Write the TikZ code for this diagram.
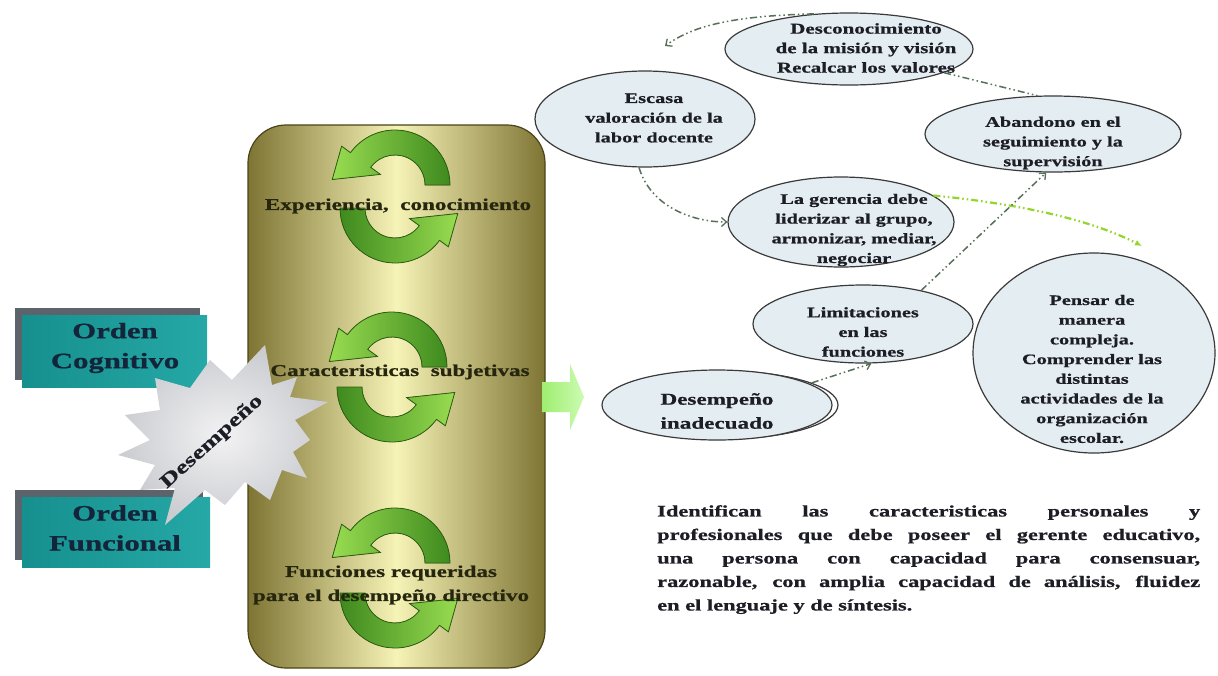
\documentclass[tikz,border=0pt]{standalone}
\usepackage{fontspec}
\setmainfont{Liberation Serif}[FakeStretch=1.4, BoldFont={Liberation Serif Bold}, BoldFeatures={FakeBold=0.8}]
\usetikzlibrary{arrows.meta,shapes.geometric}

\definecolor{cylEdge}{HTML}{7E7434}
\definecolor{cylMid}{HTML}{F6F3B6}
\definecolor{cylBorder}{HTML}{4A4418}
\definecolor{arLight}{HTML}{98DC50}
\definecolor{arDark}{HTML}{3F8A1F}
\definecolor{arLine}{HTML}{2C5E12}
\definecolor{tealA}{HTML}{16908E}
\definecolor{tealB}{HTML}{25A8A6}
\definecolor{boxShadow}{HTML}{5C636B}
\definecolor{navy}{HTML}{14243A}
\definecolor{starIn}{HTML}{F2F2F4}
\definecolor{starOut}{HTML}{CBCCD0}
\definecolor{bubbleFill}{HTML}{E4EEF2}
\definecolor{bubbleLine}{HTML}{3A3A3A}
\definecolor{linkCol}{HTML}{56705A}
\definecolor{linkLime}{HTML}{93D62A}
\definecolor{txt}{HTML}{1D1D26}
\definecolor{cylTxt}{HTML}{26260F}
\definecolor{blockA}{HTML}{9FEE70}
\definecolor{blockB}{HTML}{CCFBB2}

% one green arc arrow of a cycle pair, drawn around the current origin
\newcommand\arcup{%
  (0:55) arc[start angle=0, end angle=-144, radius=55] -- (-144:66) -- (-175:63)
  -- (-144:18) -- (-144:30) arc[start angle=-144, end angle=0, radius=30] -- cycle}
\newcommand\arcdown{%
  (180:55) arc[start angle=180, end angle=36, radius=55] -- (36:66) -- (5:63)
  -- (36:18) -- (36:30) arc[start angle=36, end angle=180, radius=30] -- cycle}
% #1 x, #2 centre y of upper arrow, #3 centre y of lower arrow
\newcommand\cyclepair[3]{%
  \begin{scope}[shift={(#1,#2)}]
    \filldraw[cyc, left color=arLight, right color=arDark] \arcup;
  \end{scope}
  \begin{scope}[shift={(#1,#3)}]
    \filldraw[cyc, left color=arDark, right color=arLight] \arcdown;
  \end{scope}}

\begin{document}
\begin{tikzpicture}[x=1pt, y=-1pt,
  cyc/.style={draw=arLine, line width=0.8pt},
  tealbox/.style={rectangle, left color=tealA, right color=tealB, inner sep=0pt, anchor=north west},
  boxtext/.style={font=\bfseries\fontsize{22}{30}\selectfont, text=navy, align=center, inner sep=0pt},
  cyltext/.style={font=\bfseries\fontsize{16.5}{24}\selectfont, text=cylTxt, align=center, inner sep=0pt},
  bubble/.style={ellipse, draw=bubbleLine, fill=bubbleFill, line width=1.2pt, inner sep=0pt},
  btext/.style={font=\bfseries\fontsize{14.5}{19.7}\selectfont, text=txt, align=center, inner sep=0pt},
  link/.style={draw=linkCol, line width=1.5pt, dash pattern=on 7pt off 3pt on 1.5pt off 3pt on 1.5pt off 3pt},
  barb/.style={-{Straight Barb[length=5pt, width=9pt, line width=1.3pt]}}
]
\useasboundingbox (0,0) rectangle (1218,675);
\fill[white] (0,0) rectangle (1218,675);

% ---------- central column ----------
\shade[left color=cylEdge, right color=cylEdge, middle color=cylMid, rounded corners=38pt]
  (248,125) rectangle (545,668);
\draw[cylBorder, line width=1.2pt, rounded corners=38pt] (248,125) rectangle (545,668);

\cyclepair{395}{185}{208}
\cyclepair{392}{367}{387}
\cyclepair{395}{563}{593}

\node[cyltext] (ct1) at (398,206) {Experiencia,\ \ conocimiento};
\node[cyltext] (ct2) at (400,372) {Caracteristicas\ \ subjetivas};
\node[cyltext] (ct3) at (391,585) {Funciones requeridas\\para el desempeño directivo};

% ---------- left boxes ----------
\fill[boxShadow] (15,308) rectangle (200,380);
\node[tealbox, minimum width=185pt, minimum height=72pt] (oc) at (22,315) {};
\fill[boxShadow] (15,490) rectangle (203,560);
\node[tealbox, minimum width=188pt, minimum height=70pt] (of) at (22,497) {};
\node[boxtext] (oct) at (115,348) {Orden\\Cognitivo};
\node[boxtext] (oft) at (115,528) {Orden\\Funcional};

% ---------- starburst ----------
\shade[inner color=starIn, outer color=starOut]
  (265,345) -- (272,385) -- (297,377) -- (290,397) -- (328,402) -- (295,420)
  -- (310,440) -- (293,452) -- (307,478) -- (282,470) -- (270,500) -- (245,482)
  -- (225,505) -- (205,490) -- (165,525) -- (175,488) -- (140,490) -- (155,465)
  -- (118,455) -- (150,440) -- (125,415) -- (160,410) -- (155,378) -- (190,388)
  -- (210,360) -- (232,380) -- cycle;
\node[font=\bfseries\fontsize{19}{24}\selectfont, text=txt, rotate=42, inner sep=0pt] (dst) at (212,442) {Desempeño};

% ---------- block arrow ----------
\shade[left color=blockA, right color=blockB]
  (542,382) -- (570,382) -- (570,364) -- (584,397) -- (570,430) -- (570,412) -- (542,412) -- cycle;

% ---------- bubbles ----------
\node[bubble, minimum width=248pt, minimum height=72pt] (e1) at (849,49) {};
\node[bubble, minimum width=220pt, minimum height=96pt] (e2) at (645,119) {};
\node[bubble, minimum width=226pt, minimum height=90pt] (e3) at (841,222) {};
\node[bubble, minimum width=256pt, minimum height=76pt] (e4) at (1053,134) {};
\node[bubble, minimum width=242pt, minimum height=200pt] (e5) at (1094,353) {};
\node[bubble, minimum width=220pt, minimum height=78pt] (e6) at (863,324) {};
\node[bubble, fill=white, minimum width=230pt, minimum height=68pt] (e7s) at (723,405) {};
\node[bubble, minimum width=230pt, minimum height=70pt] (e7) at (717,405) {};

\node[btext, font=\bfseries\fontsize{15}{19.5}\selectfont] (t1) at (866,48) {Desconocimiento\\de la misión y visión\\Recalcar los valores};
\node[btext] (t2) at (654,118) {Escasa\\valoración de la\\labor docente};
\node[btext] (t3) at (854,230) {La gerencia debe\\liderizar al grupo,\\armonizar, mediar,\\negociar};
\node[btext] (t4) at (1053,143) {Abandono en el\\seguimiento y la\\supervisión};
\node[btext] (t5) at (1092,369) {Pensar de\\manera\\compleja.\\Comprender las\\distintas\\actividades de la\\organización\\escolar.};
\node[btext] (t6) at (863,332) {Limitaciones\\en las\\funciones};
\node[btext, font=\bfseries\fontsize{16.5}{24}\selectfont] (t7) at (717,411) {Desempeño\\inadecuado};

% ---------- connectors ----------
\coordinate (c1) at (665,46);
\coordinate (c4) at (1142,246);
\draw[link, barb] (e1.135) .. controls (725,16) and (690,28) .. (c1);
\draw[link] (e1.-14) -- (e4.112);
\draw[link, barb] (e2.-97) .. controls (650,205) and (690,222) .. (e3.west);
\draw[link, draw=linkLime, line width=2.2pt, -{Latex[length=7pt, width=6pt]}] (e3.16) .. controls (1030,205) and (1095,222) .. (c4);
\draw[link, barb] (e6.30) -- (e4.-100);
\draw[link, barb] (e7s.14) -- (e6.-78);

% ---------- closing paragraph ----------
\node[font=\bfseries\fontsize{16}{23.5}\selectfont, text=txt, align=left, inner sep=0pt, anchor=north west] (para) at (657,505)
  {\makebox[543pt][s]{Identifican las caracteristicas personales y}\\
   \makebox[543pt][s]{profesionales que debe poseer el gerente educativo,}\\
   \makebox[543pt][s]{una persona con capacidad para consensuar,}\\
   \makebox[543pt][s]{razonable, con amplia capacidad de análisis, fluidez}\\
   en el lenguaje y de síntesis.};
\end{tikzpicture}
\end{document}
